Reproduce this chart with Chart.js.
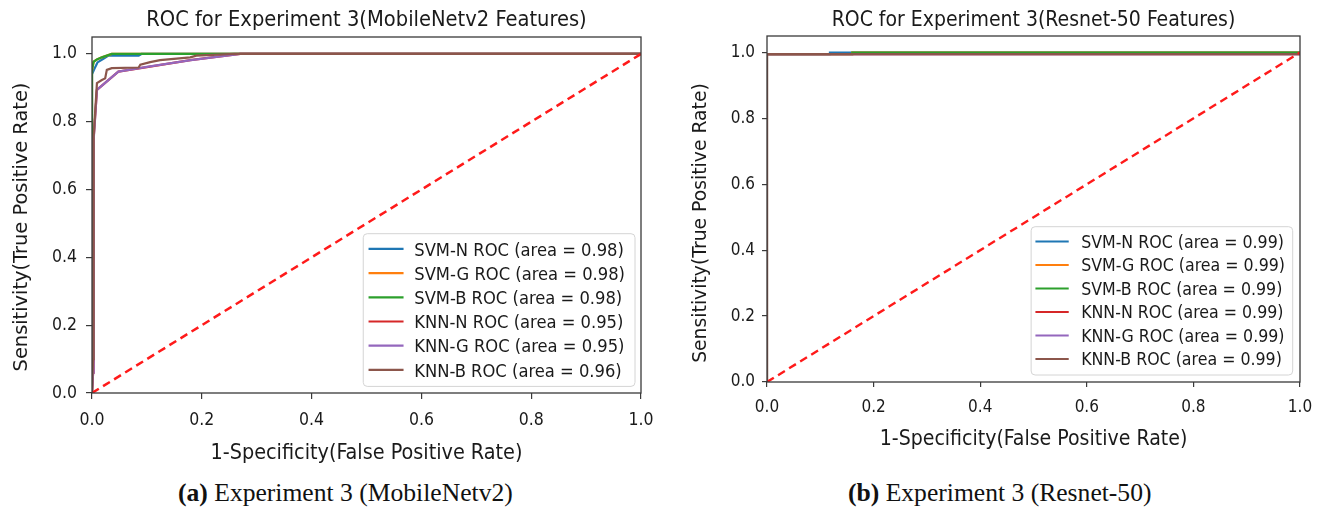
<!DOCTYPE html>
<html>
<head>
<meta charset="utf-8">
<script src="https://cdn.jsdelivr.net/npm/chart.js@4.4.1/dist/chart.umd.min.js"></script>
<style>
  html, body { margin: 0; padding: 0; background: #fff; }
  body { width: 1323px; height: 513px; overflow: hidden; position: relative; }
  canvas { position: absolute; top: 0; }
  #cA { left: 0; }
  #cB { left: 660px; }
  .cap { position: absolute; font-family: 'Liberation Serif', 'Times New Roman', serif; font-size: 25.6px; line-height: 26px; color: #111; white-space: nowrap; }
  .cap b { font-weight: bold; }
</style>
</head>
<body>
<canvas id="cA" width="660" height="470"></canvas>
<canvas id="cB" width="663" height="470"></canvas>
<div class="cap" id="capA" style="left:178px; top:480px;"><b>(a)</b> Experiment 3 (MobileNetv2)</div>
<div class="cap" id="capB" style="left:848px; top:480px;"><b>(b)</b> Experiment 3 (Resnet-50)</div>
<script>
// ---------------- DATA ----------------
const xTickValues = [0.0, 0.2, 0.4, 0.6, 0.8, 1.0];
const yTickValues = [0.0, 0.2, 0.4, 0.6, 0.8, 1.0];
const seriesNames = ['SVM-N', 'SVM-G', 'SVM-B', 'KNN-N', 'KNN-G', 'KNN-B'];
const seriesColors = ['#1f77b4', '#ff7f0e', '#2ca02c', '#d62728', '#9467bd', '#8c564b'];

// (a) Experiment 3 - MobileNetv2 features
const mobTitle = 'ROC for Experiment 3(MobileNetv2 Features)';
const mobAreas = [0.98, 0.98, 0.98, 0.95, 0.95, 0.96];
const mobSvmNFpr = [0, 0, 0.004, 0.010, 0.020, 0.030, 0.085, 0.090, 1.0];
const mobSvmNTpr = [0, 0.94, 0.955, 0.975, 0.985, 0.995, 0.995, 1.0, 1.0];
const mobSvmGFpr = [0, 0, 0.003, 0.009, 0.018, 0.036, 1.0];
const mobSvmGTpr = [0, 0.95, 0.977, 0.984, 0.990, 1.0, 1.0];
const mobSvmBFpr = [0, 0, 0.003, 0.009, 0.018, 0.036, 1.0];
const mobSvmBTpr = [0, 0.953, 0.977, 0.984, 0.990, 1.0, 1.0];
const mobKnnNFpr = [0, 0.002, 0.003, 0.009, 0.048, 0.100, 0.179, 0.270, 1.0];
const mobKnnNTpr = [0, 0.06, 0.75, 0.894, 0.948, 0.961, 0.982, 1.0, 1.0];
const mobKnnGFpr = [0, 0.002, 0.003, 0.009, 0.048, 0.100, 0.180, 0.270, 1.0];
const mobKnnGTpr = [0, 0.06, 0.746, 0.894, 0.948, 0.962, 0.982, 1.0, 1.0];
const mobKnnBFpr = [0, 0.002, 0.003, 0.009, 0.018, 0.024, 0.027, 0.036, 0.085, 0.088, 0.106, 0.124, 0.179, 0.190, 0.260, 1.0];
const mobKnnBTpr = [0, 0.10, 0.756, 0.914, 0.923, 0.928, 0.953, 0.958, 0.960, 0.968, 0.976, 0.982, 0.990, 0.995, 1.0, 1.0];

// (b) Experiment 3 - Resnet-50 features
const resTitle = 'ROC for Experiment 3(Resnet-50 Features)';
const resAreas = [0.99, 0.99, 0.99, 0.99, 0.99, 0.99];
const resSvmNFpr = [0, 0, 0.118, 0.118, 1.0];
const resSvmNTpr = [0, 0.995, 0.995, 1.0, 1.0];
const resSvmGFpr = [0, 0, 0.160, 0.160, 1.0];
const resSvmGTpr = [0, 0.995, 0.995, 1.0, 1.0];
const resSvmBFpr = [0, 0, 0.160, 0.160, 1.0];
const resSvmBTpr = [0, 0.995, 0.995, 1.0, 1.0];
const resKnnNFpr = [0, 0, 1.0, 1.0];
const resKnnNTpr = [0, 0.995, 0.995, 1.0];
const resKnnGFpr = [0, 0, 1.0, 1.0];
const resKnnGTpr = [0, 0.995, 0.995, 1.0];
const resKnnBFpr = [0, 0, 1.0, 1.0];
const resKnnBTpr = [0, 0.995, 0.995, 1.0];

// chance line
const chanceFpr = [0, 1];
const chanceTpr = [0, 1];

const xAxisTitle = '1-Specificity(False Positive Rate)';
const yAxisTitle = 'Sensitivity(True Positive Rate)';

// ---------------- RENDERING ----------------
const CONDENSED = "'DejaVu Sans Condensed', 'DejaVu Sans', sans-serif";
const NORMAL = "'DejaVu Sans', sans-serif";
const TEXT = '#1a1a1a';
const SPINE = '#3a3a3a';

const decorPlugin = {
  id: 'rocDecor',
  afterDatasetsDraw(chart, args, o) {
    const ctx = chart.ctx, ca = chart.chartArea;
    ctx.save();
    // axes box (spines)
    ctx.strokeStyle = SPINE;
    ctx.lineWidth = o.spineWidth;
    ctx.strokeRect(ca.left, ca.top, ca.right - ca.left, ca.bottom - ca.top);

    // legend (inside plot, lower right)
    const L = o.legend;
    const items = chart.data.datasets.filter(d => d.inLegend);
    ctx.font = `${L.size}px ${CONDENSED}`;
    let tw = 0;
    items.forEach(d => { tw = Math.max(tw, ctx.measureText(d.label).width); });
    const bw = L.padL + L.sample + L.gap + tw + L.padR;
    const bh = L.padT + items.length * L.rowH + L.padB;
    const x0 = ca.right - L.insetR - bw;
    const y0 = ca.bottom - L.insetB - bh;
    ctx.beginPath();
    ctx.roundRect(x0, y0, bw, bh, 4);
    ctx.fillStyle = 'rgba(255,255,255,0.85)';
    ctx.fill();
    ctx.strokeStyle = '#d4d4d4';
    ctx.lineWidth = 1;
    ctx.stroke();
    items.forEach((d, i) => {
      const cy = y0 + L.padT + L.rowH * (i + 0.5);
      ctx.beginPath();
      ctx.moveTo(x0 + L.padL, cy);
      ctx.lineTo(x0 + L.padL + L.sample, cy);
      ctx.strokeStyle = d.borderColor;
      ctx.lineWidth = d.borderWidth;
      ctx.stroke();
      ctx.fillStyle = TEXT;
      ctx.textAlign = 'left';
      ctx.textBaseline = 'alphabetic';
      ctx.fillText(d.label, x0 + L.padL + L.sample + L.gap, cy + 0.365 * L.size);
    });

    // chart title centred over the axes
    ctx.font = `${o.title.size}px ${CONDENSED}`;
    ctx.fillStyle = TEXT;
    ctx.textAlign = 'center';
    ctx.textBaseline = 'alphabetic';
    ctx.fillText(o.title.text, (ca.left + ca.right) / 2, o.title.y + 0.365 * o.title.size);

    // rotated y-axis title
    const Y = o.yTitle;
    ctx.save();
    ctx.translate(Y.x, (ca.top + ca.bottom) / 2 + Y.dy);
    ctx.rotate(-Math.PI / 2);
    ctx.font = `${Y.size}px ${NORMAL}`;
    ctx.textAlign = 'center';
    ctx.textBaseline = 'middle';
    ctx.fillText(Y.text, 0, 0);
    ctx.restore();
    ctx.restore();
  }
};

function buildDatasets(fprs, tprs, areas, lw) {
  const ds = fprs.map((fpr, i) => ({
    label: `${seriesNames[i]} ROC (area = ${areas[i].toFixed(2)})`,
    data: fpr.map((x, j) => ({ x: x, y: tprs[i][j] })),
    borderColor: seriesColors[i],
    backgroundColor: seriesColors[i],
    borderWidth: lw,
    pointRadius: 0,
    tension: 0,
    fill: false,
    order: 20 - i,
    inLegend: true
  }));
  ds.push({
    label: 'chance',
    data: chanceFpr.map((x, j) => ({ x: x, y: chanceTpr[j] })),
    borderColor: '#ff1a1a',
    borderWidth: lw + 0.3,
    borderDash: [8, 5],
    pointRadius: 0,
    tension: 0,
    fill: false,
    order: 0,
    inLegend: false
  });
  return ds;
}

function makeChart(id, c) {
  return new Chart(document.getElementById(id), {
    type: 'line',
    data: { datasets: c.datasets },
    plugins: [decorPlugin],
    options: {
      responsive: false,
      animation: false,
      events: [],
      devicePixelRatio: 1,
      layout: { padding: { left: 0, top: c.padTop, right: c.padRight, bottom: 0 } },
      plugins: {
        legend: { display: false },
        tooltip: { enabled: false },
        title: { display: false },
        rocDecor: c.decor
      },
      scales: {
        x: {
          type: 'linear', min: 0, max: 1,
          afterBuildTicks: s => { s.ticks = xTickValues.map(v => ({ value: v })); },
          afterFit: s => { s.height = c.xAxisH; s.paddingLeft = 0; s.paddingRight = 0; },
          ticks: {
            callback: v => Number(v).toFixed(1),
            font: { family: CONDENSED, size: c.tickSize },
            color: TEXT, padding: c.xTickPad, maxRotation: 0, autoSkip: false
          },
          grid: { display: true, drawOnChartArea: false, drawTicks: true, tickLength: c.tickLen, color: SPINE, lineWidth: 1.2 },
          border: { display: false },
          title: {
            display: true, text: xAxisTitle, color: TEXT,
            font: { family: CONDENSED, size: c.labelSize },
            padding: { top: 0, bottom: c.xTitlePadB }
          }
        },
        y: {
          type: 'linear', min: 0, max: 1.05,
          afterBuildTicks: s => { s.ticks = yTickValues.map(v => ({ value: v })); },
          afterFit: s => { s.width = c.yAxisW; s.paddingTop = 0; s.paddingBottom = 0; },
          ticks: {
            callback: v => Number(v).toFixed(1),
            font: { family: CONDENSED, size: c.tickSize },
            color: TEXT, padding: c.yTickPad, autoSkip: false
          },
          grid: { display: true, drawOnChartArea: false, drawTicks: true, tickLength: c.tickLen, color: SPINE, lineWidth: 1.2 },
          border: { display: false },
          title: { display: false }
        }
      }
    }
  });
}

makeChart('cA', {
  datasets: buildDatasets(
    [mobSvmNFpr, mobSvmGFpr, mobSvmBFpr, mobKnnNFpr, mobKnnGFpr, mobKnnBFpr],
    [mobSvmNTpr, mobSvmGTpr, mobSvmBTpr, mobKnnNTpr, mobKnnGTpr, mobKnnBTpr],
    mobAreas, 2.2),
  padTop: 37, padRight: 19, yAxisW: 92, xAxisH: 77,
  tickSize: 17.5, labelSize: 21.4, tickLen: 6,
  xTickPad: 11, yTickPad: 9, xTitlePadB: 4.2,
  decor: {
    spineWidth: 1.3,
    title: { text: mobTitle, size: 21.7, y: 18 },
    yTitle: { text: yAxisTitle, size: 19.4, x: 22, dy: 12 },
    legend: { size: 18.2, rowH: 24.2, padT: 3.1, padB: 4.4, padL: 5.3, sample: 35, gap: 10.7, padR: 10, insetR: 6, insetB: 6.6 }
  }
});

makeChart('cB', {
  datasets: buildDatasets(
    [resSvmNFpr, resSvmGFpr, resSvmBFpr, resKnnNFpr, resKnnGFpr, resKnnBFpr],
    [resSvmNTpr, resSvmGTpr, resSvmBTpr, resKnnNTpr, resKnnGTpr, resKnnBTpr],
    resAreas, 2.1),
  padTop: 36, padRight: 23, yAxisW: 107, xAxisH: 88,
  tickSize: 17, labelSize: 21.1, tickLen: 5,
  xTickPad: 10, yTickPad: 7, xTitlePadB: 18.3,
  decor: {
    spineWidth: 1.3,
    title: { text: resTitle, size: 21, y: 18 },
    yTitle: { text: yAxisTitle, size: 18.8, x: 41, dy: 14 },
    legend: { size: 17.6, rowH: 23.5, padT: 3, padB: 4.3, padL: 4.3, sample: 33.3, gap: 12.4, padR: 7.7, insetR: 7.3, insetB: 7 }
  }
});
</script>
</body>
</html>
